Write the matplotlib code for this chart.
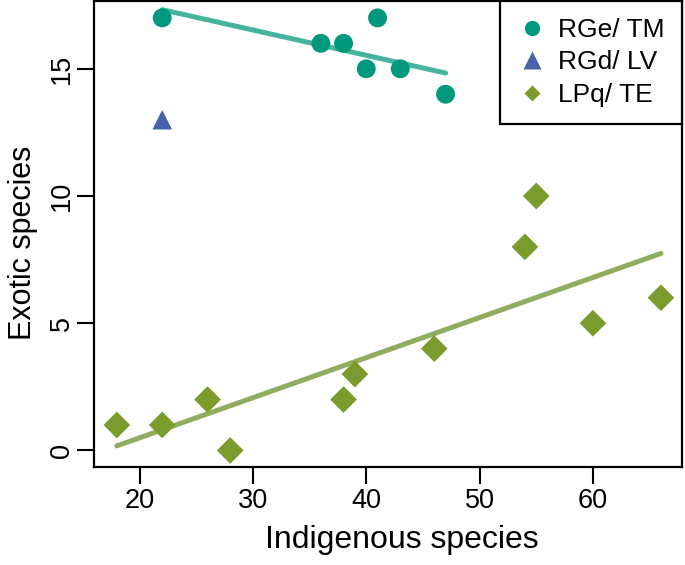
import numpy as np
import matplotlib
matplotlib.use("Agg")
import matplotlib.pyplot as plt
from matplotlib.lines import Line2D

plt.rcParams['font.family'] = ['Liberation Sans', 'DejaVu Sans']

# ----------------------------
# Data
# ----------------------------
tm_x = [22, 36, 38, 40, 41, 43, 47]          # RGe/ TM
tm_y = [17, 16, 16, 15, 17, 15, 14]

lv_x = [22]                                   # RGd/ LV
lv_y = [13]

te_x = [18, 22, 26, 28, 38, 39, 46, 54, 55, 60, 66]   # LPq/ TE
te_y = [1, 1, 2, 0, 2, 3, 4, 8, 10, 5, 6]

labels = ["RGe/ TM", "RGd/ LV", "LPq/ TE"]
x_ticks = [20, 30, 40, 50, 60]
y_ticks = [0, 5, 10, 15]

# colours
TEAL = "#00997e"
TEAL_LINE = "#45b39d"
BLUE = "#4a62aa"
GREEN = "#7a9c2c"
GREEN_LINE = "#8fac5f"

fig = plt.figure(figsize=(6.85, 5.65), dpi=100)
ax = fig.add_axes([0.1375, 0.1735, 0.858, 0.825])

# regression lines (simple least squares over each group's range)
for xs, ys, col in [(tm_x, tm_y, TEAL_LINE), (te_x, te_y, GREEN_LINE)]:
    slope, icpt = np.polyfit(xs, ys, 1)
    xx = np.array([min(xs), max(xs)])
    ax.plot(xx, slope * xx + icpt, color=col, lw=3.6, solid_capstyle="round", zorder=2)

ax.scatter(tm_x, tm_y, s=185, marker="o", color=TEAL, edgecolors="none", zorder=3)
ax.scatter(lv_x, lv_y, s=200, marker="^", color=BLUE, edgecolors="none", zorder=3)
ax.scatter(te_x, te_y, s=185, marker="D", color=GREEN, edgecolors="none", zorder=3)

ax.set_xlim(16.0, 67.85)
ax.set_ylim(-0.65, 17.67)
ax.set_xticks(x_ticks)
ax.set_yticks(y_ticks)
ax.tick_params(direction="out", length=12, width=1.5, labelsize=19.5)
ax.tick_params(axis="x", pad=3)
ax.tick_params(axis="y", pad=2)
for lab in ax.get_yticklabels():
    lab.set_rotation(90)
    lab.set_va("center")
for sp in ax.spines.values():
    sp.set_linewidth(1.6)

ax.set_xlabel("Indigenous species", fontsize=23, labelpad=8)
ax.set_ylabel("Exotic species", fontsize=22, labelpad=8)
ax.xaxis.label.set_x(0.524)
ax.yaxis.label.set_y(0.48)

handles = [
    Line2D([], [], ls="none", marker="o", ms=11, color=TEAL, mec="none"),
    Line2D([], [], ls="none", marker="^", ms=13, color=BLUE, mec="none"),
    Line2D([], [], ls="none", marker="D", ms=8.5, color=GREEN, mec="none"),
]
leg = ax.legend(handles, labels, loc="upper right", fontsize=19, frameon=True,
                fancybox=False, edgecolor="black", framealpha=1,
                borderaxespad=0.0, handletextpad=0.45, labelspacing=0.32,
                borderpad=0.65, handlelength=1.1)
leg.get_frame().set_linewidth(1.6)

fig.savefig("out.png", dpi=100)
